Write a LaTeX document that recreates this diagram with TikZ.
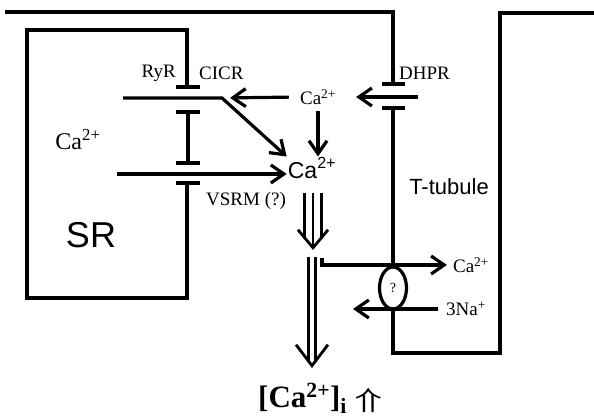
\documentclass[tikz,border=0pt]{standalone}
\usepackage{fontspec}
\setmainfont{Liberation Serif}
\setsansfont{Liberation Sans}
\usetikzlibrary{arrows.meta,positioning,shapes.geometric}

\begin{document}
\begin{tikzpicture}[
x=1pt,y=-1pt,
mem/.style={line width=3.2pt},
t/.style={-{Straight Barb[length=13pt,width=18pt]},line width=3.2pt},
lbl/.style={inner sep=1pt,font=\fontsize{19}{22}\selectfont},
lbig/.style={inner sep=1pt,font=\fontsize{24}{28}\selectfont},
sans/.style={inner sep=1pt,font=\sffamily\fontsize{23}{27}\selectfont},
tri/.style={line width=2.8pt,double distance=14pt,shorten >=11pt},
trihead/.style={line width=2.8pt,-{Straight Barb[length=18pt,width=30pt]}},
dbl/.style={line width=2.6pt,double distance=4.6pt,shorten >=7pt},
dblhead/.style={white,line width=2pt,-{Straight Barb[color=black,length=21pt,width=32pt,line width=2.8pt]}}
]
\useasboundingbox (0,0) rectangle (594,419);

% membranes
\draw[mem] (5,12) -- (393,12) -- (393,84);
\draw[mem] (187,87) -- (187,30) -- (27,30) -- (27,298) -- (187,298) -- (187,183);
\foreach \y in {87,112,163,183}
  \draw[mem] (176,\y) -- (200,\y);
\draw[mem] (188,112) -- (188,163);
\draw[mem] (382,84) -- (405,84);
\draw[mem] (382,108) -- (405,108);

\node[ellipse,draw,line width=3.2pt,fill=white,minimum width=27pt,minimum height=42pt,inner sep=0pt,font=\fontsize{14}{16}\selectfont] (ncx) at (393,288) {?};
\draw[mem] (393,108) -- (ncx.north);
\draw[mem] (ncx.south) -- (393,353) -- (500,353) -- (500,13) -- (598,13);

% labels
\node[lbl,anchor=east] (ryr) at (177,73) {RyR};
\node[lbl,anchor=west] (cicr) at (198,73) {CICR};
\node[lbl,anchor=west] (dhpr) at (398,73) {DHPR};
\node[lbl] (caS) at (318,97) {Ca\textsuperscript{2+}};
\node[sans] (caB) at (312,168) {Ca\textsuperscript{2+}};
\node[lbig] (caSR) at (78,140) {Ca\textsuperscript{2+}};
\node[sans,font=\sffamily\fontsize{36}{42}\selectfont] (sr) at (91,235) {SR};
\node[sans,font=\sffamily\fontsize{22}{26}\selectfont] (tt) at (449,187) {T-tubule};
\node[lbl] (vsrm) at (246,201) {VSRM (?)};
\node[lbl] (caOut) at (471,265) {Ca\textsuperscript{2+}};
\node[lbl] (na) at (466,309) {3Na\textsuperscript{+}};
\node[inner sep=0pt,anchor=base,font=\bfseries\fontsize{31}{34}\selectfont] (cai) at (320,407) {[Ca\textsuperscript{2+}]\textsubscript{i} \resizebox{27pt}{19pt}{\boldmath$\Uparrow$}};

\coordinate (srL) at (123,98);
\coordinate (cicrC) at (222,98);
\coordinate (dhprR) at (418,97);
\coordinate (vsL) at (117,174);
\coordinate (exS) at (322,258);
\coordinate (naE) at (353,309);
\coordinate (triT) at (313,193);
\coordinate (triB) at (313,250);
\coordinate (dblT) at (312,257);
\coordinate (dblB) at (312,368);

% fluxes
\draw[t,shorten >=19pt] (dhprR) -- (caS.east);
\draw[t,shorten <=10pt,shorten >=8pt] (caS.west) -- (cicrC);
\draw[t,shorten <=5pt] (caS.south) -- (caS.south |- caB.north);
\draw[t] (srL) -- (cicrC) -- (caB.north west);
\draw[t] (vsL) -- (vsL -| caB.west);
\draw[t,shorten >=5pt] (exS) |- (caOut.west);
\draw[t,shorten <=7pt] (na.west) -- (naE);

\draw[tri] (triT) -- (triB);
\draw[trihead] (triT) -- (triB);
\draw[dbl] (dblT) -- (dblB);
\draw[dblhead] (dblT) -- (dblB);
\end{tikzpicture}
\end{document}
